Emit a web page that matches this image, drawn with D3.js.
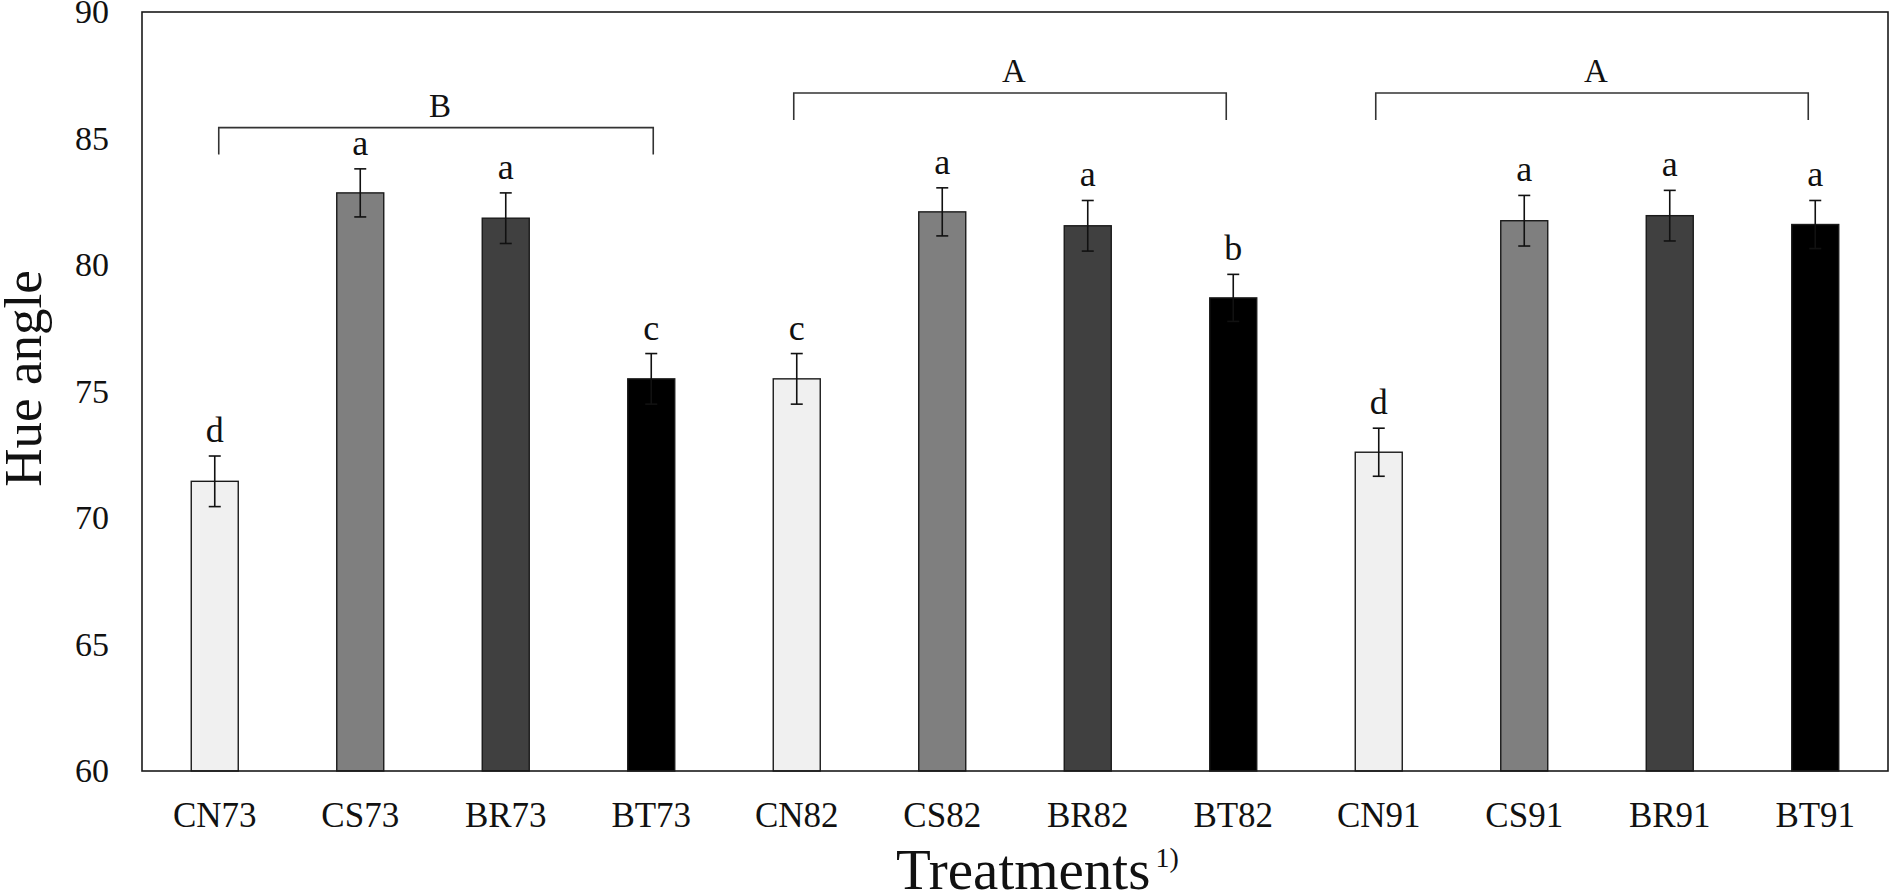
<!DOCTYPE html>
<html>
<head>
<meta charset="utf-8">
<script src="https://cdn.jsdelivr.net/npm/d3@7/dist/d3.min.js"></script>
<style>
  html, body { margin: 0; padding: 0; background: #fff; }
  svg { display: block; }
  text { font-family: "Liberation Serif", "Times New Roman", serif; fill: #111; }
</style>
</head>
<body>
<svg id="chart" width="1893" height="894"></svg>
<script>
// ---- data ----
const categories = ["CN73","CS73","BR73","BT73","CN82","CS82","BR82","BT82","CN91","CS91","BR91","BT91"];
const values     = [71.45, 82.85, 81.85, 75.5, 75.5, 82.1, 81.55, 78.7, 72.6, 81.75, 81.95, 81.6];
const errors     = [1.0, 0.95, 1.0, 1.0, 1.0, 0.95, 1.0, 0.93, 0.95, 1.0, 1.0, 0.95];
const letters    = ["d","a","a","c","c","a","a","b","d","a","a","a"];
const yTicks     = [60, 65, 70, 75, 80, 85, 90];
const groupLabels = ["B", "A", "A"];
const groupStart  = ["CN73", "CN82", "CN91"];
const groupEnd    = ["BT73", "BT82", "BT91"];

// ---- layout ----
const svg = d3.select("#chart");
const mL = 142, mR = 1888, mT = 12, mB = 771;

const x = d3.scaleBand().domain(categories).range([mL, mR]).padding(0);
const y = d3.scaleLinear().domain([60, 90]).range([mB, mT]);

const fillFor = c => ({CN: "#f0f0f0", CS: "#7f7f7f", BR: "#404040", BT: "#000000"})[c.slice(0, 2)];
const barW = x.bandwidth() * 0.323;
const cx = c => x(c) + x.bandwidth() / 2;

// axes
const yAxis = d3.axisLeft(y).tickValues(yTicks).tickSize(0).tickPadding(33).tickFormat(d3.format("d"));
const gy = svg.append("g").attr("transform", `translate(${mL},0)`).call(yAxis);
gy.select(".domain").remove();
gy.selectAll("text").style("font-size", "34px").style("font-family", "Liberation Serif").attr("fill", "#111");

const xAxis = d3.axisBottom(x).tickSize(0).tickPadding(31);
const gx = svg.append("g").attr("transform", `translate(0,${mB})`).call(xAxis);
gx.select(".domain").remove();
gx.selectAll("text").style("font-size", "35px").style("font-family", "Liberation Serif").attr("fill", "#111");

// bars
const data = categories.map((c, i) => ({c, v: values[i], e: errors[i], l: letters[i]}));
svg.append("g").selectAll("rect").data(data).join("rect")
  .attr("x", d => cx(d.c) - barW / 2)
  .attr("y", d => y(d.v))
  .attr("width", barW)
  .attr("height", d => y(60) - y(d.v))
  .attr("fill", d => fillFor(d.c))
  .attr("stroke", "#1a1a1a")
  .attr("stroke-width", 1.4);

// error bars
const eg = svg.append("g").attr("stroke", "#111").attr("stroke-width", 1.6);
eg.selectAll("line.v").data(data).join("line").attr("class", "v")
  .attr("x1", d => cx(d.c)).attr("x2", d => cx(d.c))
  .attr("y1", d => y(d.v - d.e)).attr("y2", d => y(d.v + d.e));
eg.selectAll("line.t").data(data).join("line").attr("class", "t")
  .attr("x1", d => cx(d.c) - 6).attr("x2", d => cx(d.c) + 6)
  .attr("y1", d => y(d.v + d.e)).attr("y2", d => y(d.v + d.e));
eg.selectAll("line.b").data(data).join("line").attr("class", "b")
  .attr("x1", d => cx(d.c) - 6).attr("x2", d => cx(d.c) + 6)
  .attr("y1", d => y(d.v - d.e)).attr("y2", d => y(d.v - d.e));

// significance letters
svg.append("g").selectAll("text").data(data).join("text")
  .attr("x", d => cx(d.c))
  .attr("y", d => y(d.v + d.e) - 14)
  .attr("text-anchor", "middle")
  .style("font-size", "36px")
  .text(d => d.l);

// group brackets
const bracketLevel = [85.43, 86.8, 86.8];
const bracketShift = [[4, 2], [-3, -7], [-3, -7]];
const bg = svg.append("g");
groupLabels.forEach((lab, i) => {
  const x1 = cx(groupStart[i]) + bracketShift[i][0], x2 = cx(groupEnd[i]) + bracketShift[i][1];
  const yy = y(bracketLevel[i]);
  bg.append("path")
    .attr("d", `M${x1},${yy + 27}V${yy}H${x2}V${yy + 27}`)
    .attr("fill", "none").attr("stroke", "#333").attr("stroke-width", 1.6);
  bg.append("text")
    .attr("x", (x1 + x2) / 2 + 4).attr("y", yy - 11)
    .attr("text-anchor", "middle")
    .style("font-size", "33px")
    .text(lab);
});

// frame
svg.append("rect")
  .attr("x", mL).attr("y", mT)
  .attr("width", mR - mL).attr("height", mB - mT)
  .attr("fill", "none").attr("stroke", "#1a1a1a").attr("stroke-width", 1.6);

// axis titles
svg.append("text")
  .attr("transform", `translate(41,${(mT + mB) / 2 - 13}) rotate(-90)`)
  .attr("text-anchor", "middle")
  .style("font-size", "53px")
  .text("Hue angle");

const xt = svg.append("text")
  .attr("x", 896).attr("y", 889)
  .attr("text-anchor", "start")
  .style("font-size", "57px");
xt.append("tspan").text("Treatments");
xt.append("tspan").attr("dx", 5).attr("dy", -22).style("font-size", "28px").text("1)");
</script>
</body>
</html>
